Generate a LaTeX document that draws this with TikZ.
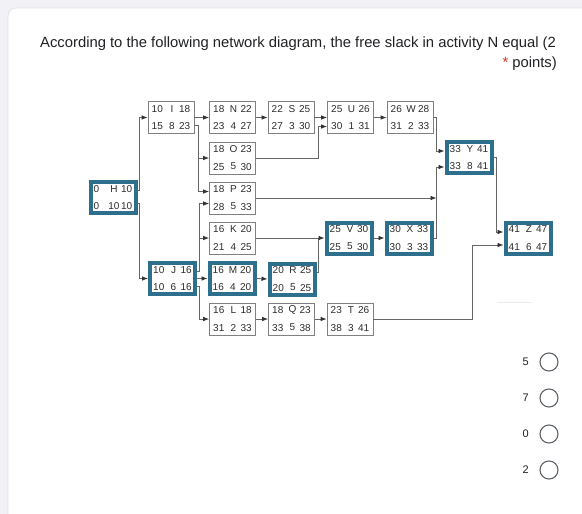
\documentclass[tikz,border=0pt]{standalone}
\usepackage{fontspec}
\setmainfont{Liberation Sans}
\usetikzlibrary{arrows.meta,calc}
\definecolor{teal1}{HTML}{2E6F8E}
\definecolor{linec}{HTML}{666666}
\definecolor{tipc}{HTML}{333333}
\definecolor{boxc}{HTML}{808080}
\definecolor{txtc}{HTML}{2C2C2C}
\definecolor{bgc}{HTML}{F1F1F6}
\definecolor{cardedge}{HTML}{E2E2EA}
\definecolor{redast}{HTML}{D93025}
\definecolor{optc}{HTML}{202124}
\definecolor{radioc}{HTML}{5F6368}
\tikzset{
  plainbox/.style={draw=boxc, line width=0.8pt, fill=white, minimum width=46pt, minimum height=32pt, inner sep=0pt, outer sep=0.4pt},
  critbox/.style={draw=teal1, line width=4pt, fill=white, minimum width=45pt, minimum height=31pt, inner sep=0pt, outer sep=2pt},
  cell/.style={inner sep=0pt, text=txtc, font=\fontsize{10}{11}\selectfont},
  conn/.style={draw=linec, line width=0.8pt, -{Latex[length=6pt,width=4.6pt,color=tipc]}},
  plainline/.style={draw=linec, line width=0.8pt},
  titletext/.style={inner sep=0pt, text=optc, font=\fontsize{14.8}{17}\selectfont},
  opttext/.style={inner sep=0pt, text=optc, font=\fontsize{11}{13}\selectfont},
  radio/.style={circle, draw=radioc, line width=1.1pt, minimum size=18pt, inner sep=0pt}
}
% #1 name, #2 position, #3 style, #4..#9 cell texts
\newcommand{\actnode}[9]{%
  \node[#3] (#1) at #2 {};
  \node[cell, anchor=west] (#1-es) at ([xshift=-19.5pt,yshift=8.6pt]#1.center) {#4};
  \node[cell] (#1-nm) at ([xshift=1pt,yshift=8.6pt]#1.center) {#5};
  \node[cell, anchor=east] (#1-ef) at ([xshift=19.5pt,yshift=8.6pt]#1.center) {#6};
  \node[cell, anchor=west] (#1-ls) at ([xshift=-19.5pt,yshift=-8.6pt]#1.center) {#7};
  \node[cell] (#1-du) at ([xshift=1pt,yshift=-8.6pt]#1.center) {#8};
  \node[cell, anchor=east] (#1-lf) at ([xshift=19.5pt,yshift=-8.6pt]#1.center) {#9};
}
\begin{document}
\begin{tikzpicture}[x=1pt, y=-1pt]
\useasboundingbox (0,0) rectangle (582,514);
\clip (0,0) rectangle (582,514);
\fill[bgc] (0,0) rectangle (582,514);
\filldraw[fill=white, draw=cardedge, line width=0.8pt, rounded corners=8pt] (8,8) rectangle (600,540);

% title
\node[titletext, anchor=base west] (title) at (40,47) {According to the following network diagram, the free slack in activity N equal (2};
\node[titletext, anchor=base east] (pts) at (557,67) {\textcolor{redast}{*} points)};

% activities
\actnode{H}{(113,197.5)}{critbox}{0}{H}{10}{0}{10}{10}
\actnode{I}{(171,117.5)}{plainbox}{10}{I}{18}{15}{8}{23}
\actnode{N}{(232.5,117.5)}{plainbox}{18}{N}{22}{23}{4}{27}
\actnode{S}{(291,117.5)}{plainbox}{22}{S}{25}{27}{3}{30}
\actnode{U}{(350.5,117.5)}{plainbox}{25}{U}{26}{30}{1}{31}
\actnode{W}{(410,117.5)}{plainbox}{26}{W}{28}{31}{2}{33}
\actnode{O}{(232.5,158)}{plainbox}{18}{O}{23}{25}{5}{30}
\actnode{P}{(232.5,198)}{plainbox}{18}{P}{23}{28}{5}{33}
\actnode{K}{(232.5,238)}{plainbox}{16}{K}{20}{21}{4}{25}
\actnode{L}{(232.5,319)}{plainbox}{16}{L}{18}{31}{2}{33}
\actnode{Q}{(291.5,319)}{plainbox}{18}{Q}{23}{33}{5}{38}
\actnode{T}{(350,319)}{plainbox}{23}{T}{26}{38}{3}{41}
\actnode{J}{(172.5,278.5)}{critbox}{10}{J}{16}{10}{6}{16}
\actnode{M}{(232,278.5)}{critbox}{16}{M}{20}{16}{4}{20}
\actnode{R}{(292,279)}{critbox}{20}{R}{25}{20}{5}{25}
\actnode{V}{(349,238)}{critbox}{25}{V}{30}{25}{5}{30}
\actnode{X}{(409,238)}{critbox}{30}{X}{33}{30}{3}{33}
\actnode{Y}{(469,157.5)}{critbox}{33}{Y}{41}{33}{8}{41}
\actnode{Z}{(528,238)}{critbox}{41}{Z}{47}{41}{6}{47}

% connectors
\draw[conn] ([yshift=7.5pt]H.east) -- ++(2,0) |- (I.west);
\draw[conn] ([yshift=-5.5pt]H.east) -- ++(2,0) |- (J.west);
\draw[conn] (I.east) -- (N.west);
\draw[conn] ([yshift=-7.5pt]I.east) -- ++(4,0) |- (O.west);
\draw[conn] ([yshift=-7.5pt]I.east) -- ++(4,0) |- ([yshift=6.5pt]P.west);
\draw[conn] ([yshift=7.5pt]J.east) -- ++(2,0) |- ([yshift=-5.5pt]P.west);
\draw[conn] ([yshift=7.5pt]J.east) -- ++(2,0) |- (K.west);
\draw[conn] (J.east) -- (M.west);
\draw[conn] ([yshift=-7.5pt]J.east) -- ++(2,0) |- (L.west);
\draw[conn] (N.east) -- (S.west);
\draw[conn] (S.east) -- (U.west);
\draw[conn] (O.east) -- ++(62,0) |- ([yshift=-9pt]U.west);
\draw[conn] (U.east) -- (W.west);
\draw[conn] (W.east) -- ++(3,0) |- ([yshift=6.5pt]Y.west);
\coordinate (xj) at ([xshift=3pt]X.east);
\draw[conn] (X.east) -- (xj) |- ([yshift=-9.5pt]Y.west);
\draw[conn] (P.east) -- (P.east -| xj);
\draw[plainline] ([yshift=7pt]R.east) -- ++(2,0) |- ([xshift=-4pt]V.west);
\draw[conn] (K.east) -- (V.west);
\draw[conn] (M.east) -- (R.west);
\draw[conn] (V.east) -- (X.west);
\draw[conn] (Y.east) -- ++(3,0) |- ([yshift=6pt]Z.west);
\draw[conn] (L.east) -- (Q.west);
\draw[conn] (Q.east) -- (T.west);
\draw[conn] (T.east) -- ++(99,0) |- ([yshift=-7pt]Z.west);

% faint remnant line
\draw[draw=black!8, line width=0.8pt] (497,302) -- (532,302);

% answer options
\node[radio] (r1) at (549,362) {};
\node[radio] (r2) at (549,398) {};
\node[radio] (r3) at (549,434) {};
\node[radio] (r4) at (549,470) {};
\node[opttext, anchor=east] (o1) at (529,362) {5};
\node[opttext, anchor=east] (o2) at (529,398) {7};
\node[opttext, anchor=east] (o3) at (529,434) {0};
\node[opttext, anchor=east] (o4) at (529,470) {2};
\end{tikzpicture}
\end{document}
